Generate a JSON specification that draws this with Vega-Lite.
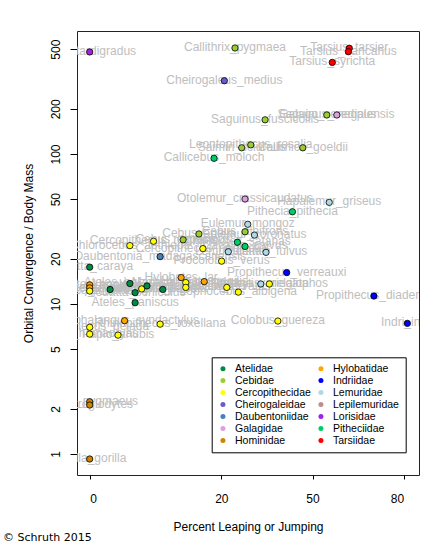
{
  "$schema": "https://vega.github.io/schema/vega-lite/v6.json",
  "autosize": {"type": "none"},
  "width": 342,
  "height": 444,
  "padding": {"left": 77, "top": 31, "right": 22, "bottom": 69},
  "background": "white",
  "config": {
    "view": {"stroke": "#222222", "strokeWidth": 1},
    "font": "Liberation Sans",
    "axis": {"grid": false, "domain": false, "tickColor": "black", "labelColor": "black", "titleColor": "black", "labelFont": "Liberation Sans", "titleFont": "Liberation Sans", "labelFontSize": 12, "titleFontSize": 12, "titleFontWeight": "normal"}
  },
  "title": {"text": "© Schruth 2015", "orient": "bottom", "anchor": "start", "frame": "group", "dx": -74, "offset": 0, "font": "DejaVu Sans", "fontSize": 11, "fontWeight": "normal", "color": "black"},
  "data": {"values": [
    {"species": "Loris_tardigradus", "family": "Lorisidae", "leaping": 0, "orbital": 479},
    {"species": "Callithrix_pygmaea", "family": "Cebidae", "leaping": 24.5, "orbital": 509},
    {"species": "Cheirogaleus_medius", "family": "Cheirogaleidae", "leaping": 21.0, "orbital": 308},
    {"species": "Saguinus_fuscicollis", "family": "Cebidae", "leaping": 34.4, "orbital": 169},
    {"species": "Leontopithecus_rosalia", "family": "Cebidae", "leaping": 29.7, "orbital": 115},
    {"species": "Saimiri_sciureus", "family": "Cebidae", "leaping": 26.7, "orbital": 110},
    {"species": "Callimico_goeldii", "family": "Cebidae", "leaping": 46.8, "orbital": 110},
    {"species": "Callicebus_moloch", "family": "Pitheciidae", "leaping": 18.9, "orbital": 93.6},
    {"species": "Tarsius_tarsier", "family": "Tarsiidae", "leaping": 62.1, "orbital": 507},
    {"species": "Tarsius_bancanus", "family": "Tarsiidae", "leaping": 61.8, "orbital": 481},
    {"species": "Tarsius_syrichta", "family": "Tarsiidae", "leaping": 56.5, "orbital": 408},
    {"species": "Saguinus_oedipus", "family": "Cebidae", "leaping": 54.7, "orbital": 182},
    {"species": "Galago_senegalensis", "family": "Galagidae", "leaping": 58.0, "orbital": 182},
    {"species": "Otolemur_crassicaudatus", "family": "Galagidae", "leaping": 27.8, "orbital": 50.1},
    {"species": "Hapalemur_griseus", "family": "Lemuridae", "leaping": 55.5, "orbital": 47.6},
    {"species": "Pithecia_pithecia", "family": "Pitheciidae", "leaping": 43.4, "orbital": 41.2},
    {"species": "Eulemur_mongoz", "family": "Lemuridae", "leaping": 28.7, "orbital": 34.0},
    {"species": "Cebus_albifrons", "family": "Cebidae", "leaping": 27.8, "orbital": 30.3},
    {"species": "Eulemur_coronatus", "family": "Lemuridae", "leaping": 30.9, "orbital": 28.8},
    {"species": "Cebus_apella", "family": "Cebidae", "leaping": 16.6, "orbital": 29.3},
    {"species": "Cebus_capucinus", "family": "Cebidae", "leaping": 14.2, "orbital": 26.8},
    {"species": "Chiropotes_satanas", "family": "Pitheciidae", "leaping": 25.3, "orbital": 25.8},
    {"species": "Cacajao_calvus", "family": "Pitheciidae", "leaping": 27.8, "orbital": 24.2},
    {"species": "Lemur_catta", "family": "Lemuridae", "leaping": 22.3, "orbital": 22.3},
    {"species": "Eulemur_fulvus", "family": "Lemuridae", "leaping": 34.7, "orbital": 22.1},
    {"species": "Chlorocebus_aethiops", "family": "Cercopithecidae", "leaping": 6.1, "orbital": 24.5},
    {"species": "Cercopithecus_nictitans", "family": "Cercopithecidae", "leaping": 9.7, "orbital": 26.2},
    {"species": "Cercopithecus_neglectus", "family": "Cercopithecidae", "leaping": 17.2, "orbital": 23.4},
    {"species": "Daubentonia_madagascariensis", "family": "Daubentoniidae", "leaping": 10.7, "orbital": 20.7},
    {"species": "Procolobus_verus", "family": "Cercopithecidae", "leaping": 20.1, "orbital": 19.3},
    {"species": "Alouatta_caraya", "family": "Atelidae", "leaping": 0, "orbital": 17.6},
    {"species": "Propithecus_verreauxi", "family": "Indriidae", "leaping": 41.5, "orbital": 16.2},
    {"species": "Hylobates_lar", "family": "Hylobatidae", "leaping": 13.9, "orbital": 15.0},
    {"species": "Propithecus_diadema", "family": "Indriidae", "leaping": 70.2, "orbital": 11.3},
    {"species": "Indri_indri", "family": "Indriidae", "leaping": 81.2, "orbital": 7.43},
    {"species": "Colobus_guereza", "family": "Cercopithecidae", "leaping": 38.6, "orbital": 7.70},
    {"species": "Ateles_paniscus", "family": "Atelidae", "leaping": 6.9, "orbital": 10.2},
    {"species": "Hylobates_hoolock", "family": "Hylobatidae", "leaping": 0, "orbital": 13.4},
    {"species": "Hylobates_muelleri", "family": "Hylobatidae", "leaping": 0, "orbital": 12.8},
    {"species": "Macaca_mulatta", "family": "Cercopithecidae", "leaping": 0, "orbital": 12.2},
    {"species": "Ateles_geoffroyi", "family": "Atelidae", "leaping": 3.1, "orbital": 12.5},
    {"species": "Ateles_belzebuth", "family": "Atelidae", "leaping": 6.1, "orbital": 13.7},
    {"species": "Alouatta_seniculus", "family": "Atelidae", "leaping": 6.9, "orbital": 11.9},
    {"species": "Macaca_fascicularis", "family": "Cercopithecidae", "leaping": 7.9, "orbital": 12.6},
    {"species": "Lagothrix_lagotricha", "family": "Atelidae", "leaping": 8.7, "orbital": 13.2},
    {"species": "Alouatta_palliata", "family": "Atelidae", "leaping": 11.1, "orbital": 12.5},
    {"species": "Macaca_nemestrina", "family": "Cercopithecidae", "leaping": 14.6, "orbital": 13.9},
    {"species": "Macaca_sylvanus", "family": "Cercopithecidae", "leaping": 14.6, "orbital": 12.9},
    {"species": "Hylobates_agilis", "family": "Hylobatidae", "leaping": 17.4, "orbital": 14.1},
    {"species": "Nasalis_larvatus", "family": "Cercopithecidae", "leaping": 21.8, "orbital": 12.9},
    {"species": "Lophocebus_albigena", "family": "Cercopithecidae", "leaping": 25.6, "orbital": 12.0},
    {"species": "Varecia_variegata", "family": "Lemuridae", "leaping": 33.0, "orbital": 13.6},
    {"species": "Presbytis_melalophos", "family": "Cercopithecidae", "leaping": 35.8, "orbital": 13.6},
    {"species": "Symphalangus_syndactylus", "family": "Hylobatidae", "leaping": 5.3, "orbital": 7.74},
    {"species": "Rhinopithecus_roxellana", "family": "Cercopithecidae", "leaping": 10.7, "orbital": 7.34},
    {"species": "Theropithecus_gelada", "family": "Cercopithecidae", "leaping": 0, "orbital": 7.0},
    {"species": "Papio_hamadryas", "family": "Cercopithecidae", "leaping": 0, "orbital": 6.3},
    {"species": "Papio_anubis", "family": "Cercopithecidae", "leaping": 4.3, "orbital": 6.2},
    {"species": "Pongo_pygmaeus", "family": "Hominidae", "leaping": 0, "orbital": 2.23},
    {"species": "Pan_troglodytes", "family": "Hominidae", "leaping": 0, "orbital": 2.12},
    {"species": "Gorilla_gorilla", "family": "Hominidae", "leaping": 0, "orbital": 0.926}
  ]},
  "encoding": {
    "x": {"field": "leaping", "type": "quantitative",
      "scale": {"domain": [0, 20, 80], "range": [12.7, 144.3, 326.7], "nice": false, "zero": false},
      "axis": {"values": [0, 20, 50, 80], "tickSize": 4, "labelPadding": 14, "labelBaseline": "top",
        "title": "Percent Leaping or Jumping", "titleX": 171, "titleY": 55.3, "titleBaseline": "alphabetic", "titleAlign": "center", "titleAnchor": null}},
    "y": {"field": "orbital", "type": "quantitative",
      "scale": {"type": "log", "domain": [0.7244, 660.7], "nice": false, "zero": false},
      "axis": {"values": [1, 2, 5, 10, 20, 50, 100, 200, 500], "tickSize": 7, "labelAngle": 270, "labelAlign": "center", "labelBaseline": "bottom", "labelPadding": 7.5,
        "title": "Orbital Convergence / Body Mass", "titleX": -42, "titleY": 222, "titleAngle": 270, "titleAlign": "center", "titleBaseline": "bottom", "titleAnchor": null}}
  },
  "layer": [
    {"mark": {"type": "text", "clip": true, "fontSize": 12, "font": "Liberation Sans", "color": "#BEBEBE", "align": "center", "baseline": "middle", "dy": -1},
     "encoding": {"text": {"field": "species"}}},
    {"mark": {"type": "circle", "size": 40, "stroke": "black", "strokeWidth": 0.8, "opacity": 1},
     "encoding": {"color": {"field": "family", "type": "nominal",
       "scale": {"domain": ["Atelidae", "Cebidae", "Cercopithecidae", "Cheirogaleidae", "Daubentoniidae", "Galagidae", "Hominidae", "Hylobatidae", "Indriidae", "Lemuridae", "Lepilemuridae", "Lorisidae", "Pitheciidae", "Tarsiidae"],
         "range": ["#008B45", "#9ACD32", "#FFFF00", "#6A5ACD", "#4682B4", "#DDA0DD", "#CD8500", "#FFA500", "#0000FF", "#ADD8E6", "#BC8F8F", "#A020F0", "#00CD66", "#FF0000"]},
       "legend": {"orient": "none", "legendX": 134.7, "legendY": 326.3, "columns": 2, "gridAlign": "all", "padding": 6, "strokeColor": "black", "fillColor": "white", "title": null,
         "labelFontSize": 10.5, "labelFont": "Liberation Sans", "labelColor": "black", "symbolSize": 25, "symbolType": "circle", "symbolStrokeWidth": 0, "symbolOpacity": 1, "labelOffset": 6.8, "columnPadding": 4, "rowPadding": 1}}}}
  ]
}
